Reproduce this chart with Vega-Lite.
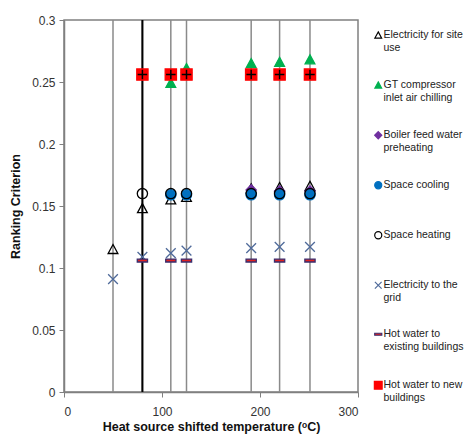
{
  "$schema": "https://vega.github.io/schema/vega-lite/v6.json",
  "width": 294,
  "height": 372,
  "autosize": "none",
  "padding": {"left": 64, "top": 20, "right": 115, "bottom": 43},
  "config": {
    "font": "Liberation Sans",
    "view": {"stroke": "#808080", "strokeWidth": 1.5},
    "axis": {"grid": false, "domainColor": "#808080", "domainWidth": 1.5, "tickColor": "#808080", "labelFontSize": 12, "labelColor": "#333", "titleFontSize": 12.5, "titleColor": "#111", "titleFontWeight": "bold", "labelFont": "Liberation Sans", "titleFont": "Liberation Sans"}
  },
  "datasets": {
    "lines": [{"t": 50}, {"t": 80}, {"t": 109}, {"t": 125}, {"t": 191}, {"t": 220}, {"t": 251}],
    "pts": [
      {"series": "Electricity for site use", "t": 50, "v": 0.115},
      {"series": "Electricity for site use", "t": 80, "v": 0.148},
      {"series": "Electricity for site use", "t": 109, "v": 0.155},
      {"series": "Electricity for site use", "t": 125, "v": 0.157},
      {"series": "Electricity for site use", "t": 191, "v": 0.164},
      {"series": "Electricity for site use", "t": 220, "v": 0.165},
      {"series": "Electricity for site use", "t": 251, "v": 0.166},
      {"series": "GT compressor inlet air chilling", "t": 109, "v": 0.249},
      {"series": "GT compressor inlet air chilling", "t": 125, "v": 0.261},
      {"series": "GT compressor inlet air chilling", "t": 191, "v": 0.265},
      {"series": "GT compressor inlet air chilling", "t": 220, "v": 0.266},
      {"series": "GT compressor inlet air chilling", "t": 251, "v": 0.268},
      {"series": "Boiler feed water preheating", "t": 191, "v": 0.163},
      {"series": "Boiler feed water preheating", "t": 220, "v": 0.162},
      {"series": "Boiler feed water preheating", "t": 251, "v": 0.162},
      {"series": "Space cooling", "t": 109, "v": 0.159},
      {"series": "Space cooling", "t": 125, "v": 0.159},
      {"series": "Space cooling", "t": 191, "v": 0.159},
      {"series": "Space cooling", "t": 220, "v": 0.159},
      {"series": "Space cooling", "t": 251, "v": 0.159},
      {"series": "Space heating", "t": 80, "v": 0.160},
      {"series": "Space heating", "t": 109, "v": 0.160},
      {"series": "Space heating", "t": 125, "v": 0.160},
      {"series": "Space heating", "t": 191, "v": 0.160},
      {"series": "Space heating", "t": 220, "v": 0.160},
      {"series": "Space heating", "t": 251, "v": 0.160},
      {"series": "Electricity to the grid", "t": 50, "v": 0.091},
      {"series": "Electricity to the grid", "t": 80, "v": 0.109},
      {"series": "Electricity to the grid", "t": 109, "v": 0.112},
      {"series": "Electricity to the grid", "t": 125, "v": 0.114},
      {"series": "Electricity to the grid", "t": 191, "v": 0.116},
      {"series": "Electricity to the grid", "t": 220, "v": 0.117},
      {"series": "Electricity to the grid", "t": 251, "v": 0.117},
      {"series": "Hot water to existing buildings", "t": 80, "v": 0.106},
      {"series": "Hot water to existing buildings", "t": 109, "v": 0.106},
      {"series": "Hot water to existing buildings", "t": 125, "v": 0.106},
      {"series": "Hot water to existing buildings", "t": 191, "v": 0.106},
      {"series": "Hot water to existing buildings", "t": 220, "v": 0.106},
      {"series": "Hot water to existing buildings", "t": 251, "v": 0.106},
      {"series": "Hot water to new buildings", "t": 80, "v": 0.256},
      {"series": "Hot water to new buildings", "t": 109, "v": 0.256},
      {"series": "Hot water to new buildings", "t": 125, "v": 0.256},
      {"series": "Hot water to new buildings", "t": 191, "v": 0.256},
      {"series": "Hot water to new buildings", "t": 220, "v": 0.256},
      {"series": "Hot water to new buildings", "t": 251, "v": 0.256}
    ]
  },
  "layer": [
    {
      "data": {"name": "lines"},
      "mark": {"type": "rule", "color": "#8a8a8a", "strokeWidth": 1.5},
      "encoding": {
        "x": {"field": "t", "type": "quantitative", "scale": {"domain": [0, 300]},
          "axis": {"values": [0, 100, 200, 300], "tickSize": 5, "labelPadding": 9, "title": "Heat source shifted temperature (ᵒC)", "titlePadding": 3}}
      }
    },
    {
      "data": {"name": "lines"},
      "transform": [{"filter": "datum.t == 80"}],
      "mark": {"type": "rule", "color": "#000", "strokeWidth": 2},
      "encoding": {
        "x": {"field": "t", "type": "quantitative"}
      }
    },
    {
      "data": {"name": "pts"},
      "mark": {"type": "point", "size": 105, "strokeWidth": 1.3, "opacity": 1},
      "encoding": {
        "x": {"field": "t", "type": "quantitative"},
        "y": {"field": "v", "type": "quantitative", "scale": {"domain": [0, 0.3]},
          "axis": {"values": [0, 0.05, 0.1, 0.15, 0.2, 0.25, 0.3], "format": ".2~f", "tickSize": 5, "labelPadding": 4, "title": "Ranking Criterion", "titlePadding": 9}},
        "shape": {"field": "series", "type": "nominal",
          "scale": {"domain": ["Electricity for site use", "GT compressor inlet air chilling", "Boiler feed water preheating", "Space cooling", "Space heating", "Electricity to the grid", "Hot water to existing buildings", "Hot water to new buildings"],
            "range": ["M0,-0.95L0.95,0.8L-0.95,0.8Z", "M0,-0.95L0.95,0.8L-0.95,0.8Z", "diamond", "circle", "circle", "M-0.95,-0.95L0.95,0.95M0.95,-0.95L-0.95,0.95", "M-1,-0.28H1V0.28H-1Z", "M-1.1,-1.1H1.1V1.1H-1.1Z"]},
          "legend": {"orient": "none", "legendX": 309, "legendY": 10, "title": null, "symbolSize": 50, "labelFontSize": 10.5, "labelColor": "#222", "labelFont": "Liberation Sans", "rowPadding": 25, "labelOffset": 0, "symbolStrokeWidth": 1.2, "labelLimit": 200,
            "labelExpr": "{'Electricity for site use': ['Electricity for site', 'use'], 'GT compressor inlet air chilling': ['GT compressor', 'inlet air chilling'], 'Boiler feed water preheating': ['Boiler feed water', 'preheating'], 'Space cooling': ['Space cooling', ' '], 'Space heating': ['Space heating', ' '], 'Electricity to the grid': ['Electricity to the', 'grid'], 'Hot water to existing buildings': ['Hot water to', 'existing buildings'], 'Hot water to new buildings': ['Hot water to new', 'buildings']}[datum.label]",
            "encode": {"labels": {"update": {"lineHeight": {"value": 14.5}}}}}},
        "fill": {"field": "series", "type": "nominal",
          "scale": {"domain": ["Electricity for site use", "GT compressor inlet air chilling", "Boiler feed water preheating", "Space cooling", "Space heating", "Electricity to the grid", "Hot water to existing buildings", "Hot water to new buildings"],
            "range": ["transparent", "#00b050", "#7030a0", "#0070c0", "transparent", "transparent", "#e02020", "#ff0000"]}},
        "stroke": {"field": "series", "type": "nominal",
          "scale": {"domain": ["Electricity for site use", "GT compressor inlet air chilling", "Boiler feed water preheating", "Space cooling", "Space heating", "Electricity to the grid", "Hot water to existing buildings", "Hot water to new buildings"],
            "range": ["#000000", "#00b050", "#7030a0", "#0070c0", "#000000", "#4f6a9a", "#3a2e6e", "#ff0000"]}},
        "order": {"value": 0}
      }
    },
    {
      "data": {"name": "pts"},
      "transform": [{"filter": "datum.series == 'Hot water to new buildings'"}],
      "mark": {"type": "point", "shape": "M-1,0H1M0,-1V1", "size": 90, "stroke": "#000", "strokeWidth": 1.5, "filled": false, "opacity": 1},
      "encoding": {
        "x": {"field": "t", "type": "quantitative"},
        "y": {"field": "v", "type": "quantitative"}
      }
    }
  ]
}
